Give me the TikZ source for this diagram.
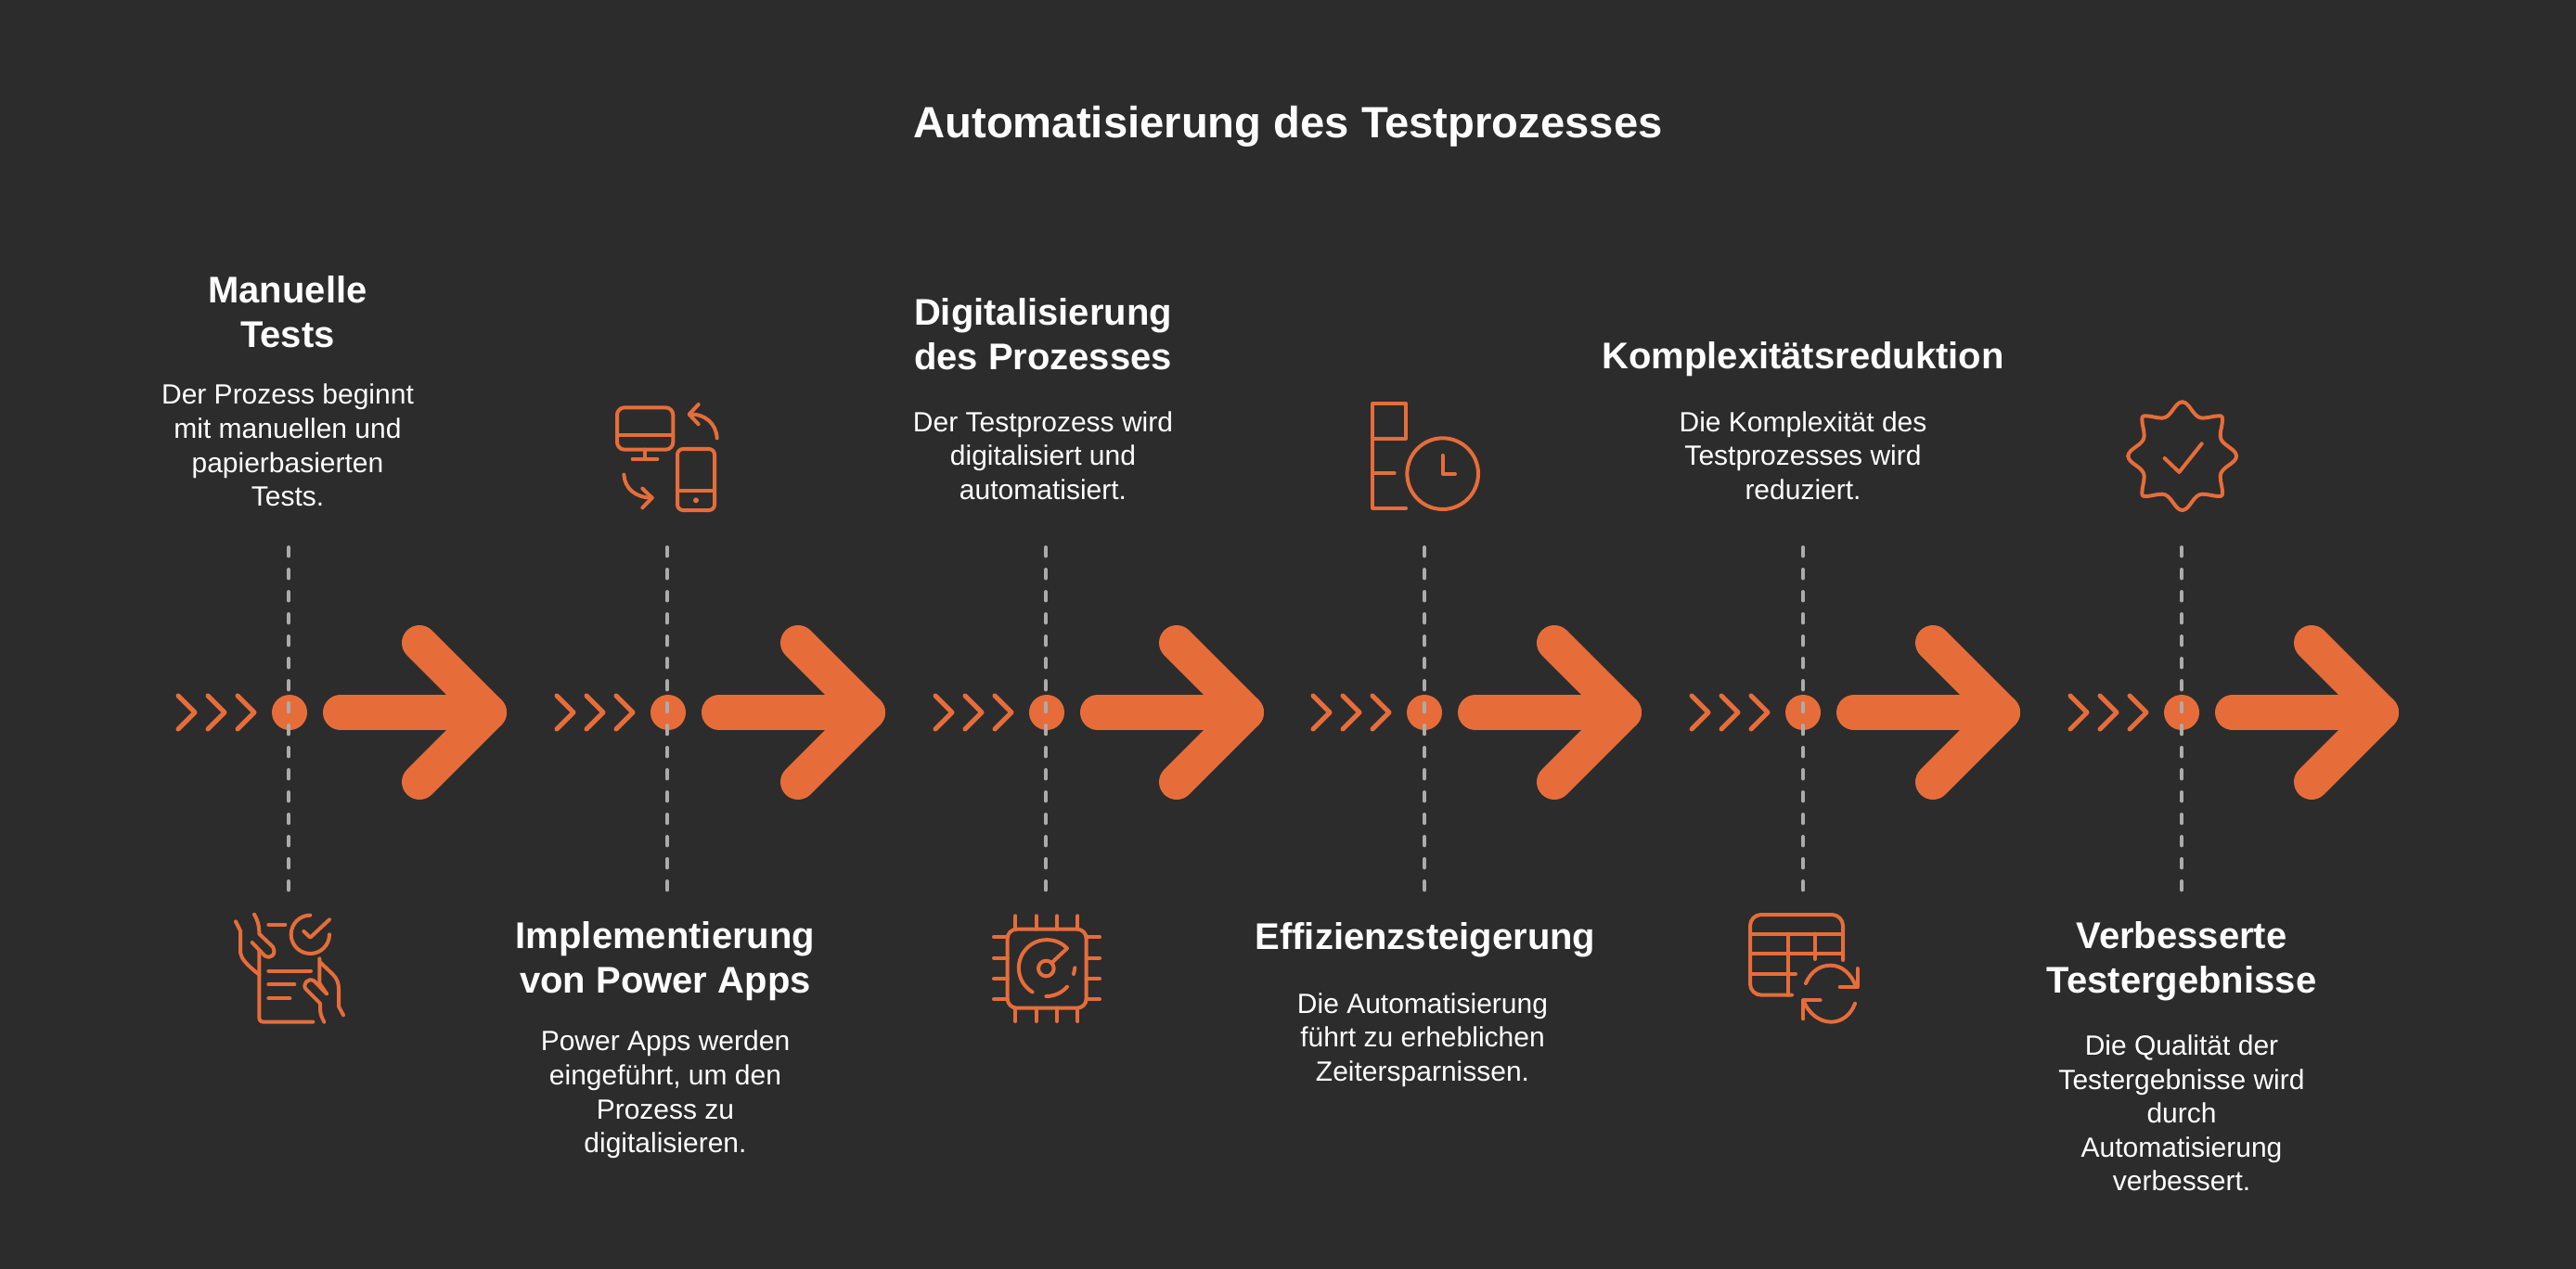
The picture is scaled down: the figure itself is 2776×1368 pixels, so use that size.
\documentclass[tikz,border=0pt]{standalone}
\usepackage{fontspec}
\setmainfont{Liberation Sans}
\usepackage{xcolor}
\usetikzlibrary{positioning, calc}
\definecolor{inkbg}{HTML}{2C2C2C}
\definecolor{rust}{HTML}{E66D3A}
\definecolor{guidegray}{HTML}{ABABAB}
\tikzset{
  titlenode/.style={text=white, font=\fontsize{23.6}{26}\selectfont\bfseries, inner sep=0pt},
  headnode/.style={text=white, font=\fontsize{20}{24}\selectfont\bfseries, align=center, inner sep=0pt},
  bodynode/.style={text=white, font=\fontsize{15}{18.3}\selectfont, align=center, inner sep=0pt},
  dotnode/.style={circle, fill=rust, minimum size=19pt, inner sep=0pt},
  guide/.style={guidegray, line width=2pt, line cap=round, dash pattern=on 4.7pt off 7.3pt},
  chevron/.style={rust, line width=2.5pt, line cap=round, line join=round},
  bigarrow/.style={rust, line width=19pt, line cap=round, line join=round},
  iconline/.style={rust, line width=2pt, line cap=round, line join=round},
  zoomed/.style 2 args={shift={(#1,#2)}, x=0.16667pt, y=-0.16667pt},
}
\begin{document}
\begin{tikzpicture}[x=0.5pt, y=-0.5pt]
  \fill[inkbg] (0,0) rectangle (2776,1368);
  \useasboundingbox (0,0) rectangle (2776,1368);
  % Row of chevrons, dots and arrows
  \foreach \col/\colx/\linex in {1/312/311, 2/720/719, 3/1128/1127, 4/1535/1535, 5/1943/1943, 6/2351/2351} {
    \node[dotnode] (dot\col) at (\colx,768) {};
    \coordinate (top\col) at (\linex,590);
    \coordinate (bot\col) at (\linex,962);
    \draw[guide] (top\col) -- (bot\col);
    \begin{scope}[shift={(\colx,768)}]
      \foreach \off in {-120, -88, -56} {
        \draw[chevron] (\off,-18) -- (\off+18,0) -- (\off,18);
      }
      \draw[bigarrow] (55,0) -- (215,0);
      \draw[bigarrow] (140,-75) -- (215,0) -- (140,75);
    \end{scope}
  }
  % Title
  \node[titlenode] (title) at (1388,136) {Automatisierung des Testprozesses};
  % Headings
  \node[headnode] (head1) at (310,336) {Manuelle\\Tests};
  \node[headnode] (head2) at (717,1036) {Implementierung\\von Power Apps};
  \node[headnode] (head3) at (1124,360) {Digitalisierung\\des Prozesses};
  \node[headnode] (head4) at (1536,1013) {Effizienzsteigerung};
  \node[headnode] (head5) at (1943,387) {Komplexitätsreduktion};
  \node[headnode] (head6) at (2351,1036) {Verbesserte\\Testergebnisse};
  % Body texts
  \node[bodynode] (body1) at (310,480) {Der Prozess beginnt\\mit manuellen und\\papierbasierten\\Tests.};
  \node[bodynode] (body2) at (717,1180) {Power Apps werden\\eingeführt, um den\\Prozess zu\\digitalisieren.};
  \node[bodynode] (body3) at (1124,491) {Der Testprozess wird\\digitalisiert und\\automatisiert.};
  \node[bodynode] (body4) at (1533,1121) {Die Automatisierung\\führt zu erheblichen\\Zeitersparnissen.};
  \node[bodynode] (body5) at (1943,491) {Die Komplexität des\\Testprozesses wird\\reduziert.};
  \node[bodynode] (body6) at (2351,1200) {Die Qualität der\\Testergebnisse wird\\durch\\Automatisierung\\verbessert.};
  % Icon: hands and checklist
  \begin{scope}[zoomed={220}{950}]
    \draw[iconline] (102,130) -- (117,160) -- (117,230) .. controls (120,250) and (135,268) .. (178,302);
    \draw[iconline] (162,107) .. controls (172,125) and (178,140) .. (178,170) -- (222,212)
      .. controls (235,235) and (215,255) .. (195,240) -- (155,198);
    \draw[iconline, rounded corners=2pt] (178,225) -- (178,455) -- (352,455);
    \draw[iconline] (208,140) -- (262,140);
    \draw[iconline] (208,290) -- (345,290);
    \draw[iconline] (208,334) -- (292,334);
    \draw[iconline] (208,379) -- (277,379);
    \draw[iconline] (343,110) arc[start angle=-90, end angle=-360, radius=62];
    \draw[iconline] (322,162) -- (343,182) -- (405,124);
    \draw[iconline] (375,262) -- (415,300) .. controls (430,315) and (435,330) .. (435,350) -- (435,405) -- (450,433);
    \draw[iconline] (373,250) -- (373,330) -- (397,365) -- (355,322)
      .. controls (335,310) and (315,335) .. (330,350) -- (375,395) -- (375,415) .. controls (376,430) and (380,440) .. (388,455);
  \end{scope}
  % Icon: monitor and phone
  \begin{scope}[zoomed={630}{410}]
    \draw[iconline, rounded corners=4pt] (105,88) rectangle (286,224);
    \draw[iconline] (105,178) -- (286,178);
    \draw[iconline] (195,224) -- (195,254);
    \draw[iconline] (155,254) -- (235,254);
    \draw[iconline, rounded corners=3pt] (300,222) rectangle (420,420);
    \draw[iconline] (300,358) -- (420,358);
    \fill[rust] (360,388) circle (9);
    \draw[iconline] (428,187) .. controls (425,140) and (390,108) .. (340,110);
    \draw[iconline] (368,78) -- (338,110) -- (368,142);
    \draw[iconline] (127,305) .. controls (130,350) and (165,380) .. (218,380);
    \draw[iconline] (187,350) -- (218,380) -- (187,412);
  \end{scope}
  % Icon: chip with gauge
  \begin{scope}[zoomed={1040}{960}]
    \draw[iconline, rounded corners=5pt] (137,125) rectangle (392,380);
    \foreach \pin/\pinb in {163/151, 230/218, 297/285, 364/352} {
      \draw[iconline] (\pin,82) -- (\pin,125);
      \draw[iconline] (\pin,380) -- (\pin,423);
      \draw[iconline] (93,\pinb) -- (137,\pinb);
      \draw[iconline] (392,\pinb) -- (435,\pinb);
    }
    \draw[iconline] (262,252) circle (25);
    \draw[iconline] (282,232) -- (330,187) arc[start angle=-44, end angle=-239, radius=91];
    \draw[iconline] (262,342) arc[start angle=90, end angle=41, radius=90];
    \draw[iconline] (355,250) -- (351,270);
  \end{scope}
  % Icon: bars and clock
  \begin{scope}[zoomed={1450}{420}]
    \draw[iconline] (88,158) -- (195,158) -- (195,45) -- (88,45) -- (88,383) -- (195,383);
    \draw[iconline] (88,270) -- (158,270);
    \draw[iconline] (314,272) circle (115);
    \draw[iconline] (314,213) -- (314,272) -- (354,272);
  \end{scope}
  % Icon: table and sync arrows
  \begin{scope}[zoomed={1860}{970}]
    \draw[iconline, rounded corners=6pt] (378,195) -- (378,48) -- (78,48) -- (78,308) -- (213,308);
    \draw[iconline] (78,110) -- (378,110);
    \draw[iconline] (78,175) -- (378,175);
    \draw[iconline] (78,240) -- (225,240);
    \draw[iconline] (200,110) -- (200,308);
    \draw[iconline] (288,110) -- (288,192);
    \draw[iconline] (258,270) .. controls (275,230) and (305,212) .. (338,212) .. controls (375,212) and (405,240) .. (420,280);
    \draw[iconline] (425,222) -- (425,282) -- (368,282);
    \draw[iconline] (417,335) .. controls (405,370) and (375,395) .. (340,395) .. controls (300,395) and (265,365) .. (250,325);
    \draw[iconline] (305,325) -- (250,325) -- (250,385);
  \end{scope}
  % Icon: badge with check
  \begin{scope}[zoomed={2270}{420}]
    \foreach \quarter in {0, 90, 180, 270} {
      \draw[iconline, shift={(245,215)}, rotate=\quarter] (0,-175)
        .. controls (25,-175) and (35,-123) .. (65,-123)
        .. controls (85,-123) and (100,-130) .. (118,-130)
        .. controls (128,-130) and (130,-128) .. (130,-118)
        .. controls (130,-100) and (123,-85) .. (123,-65)
        .. controls (123,-35) and (175,-25) .. (175,0);
    }
    \draw[iconline] (188,222) -- (235,267) -- (308,175);
  \end{scope}
\end{tikzpicture}
\end{document}
